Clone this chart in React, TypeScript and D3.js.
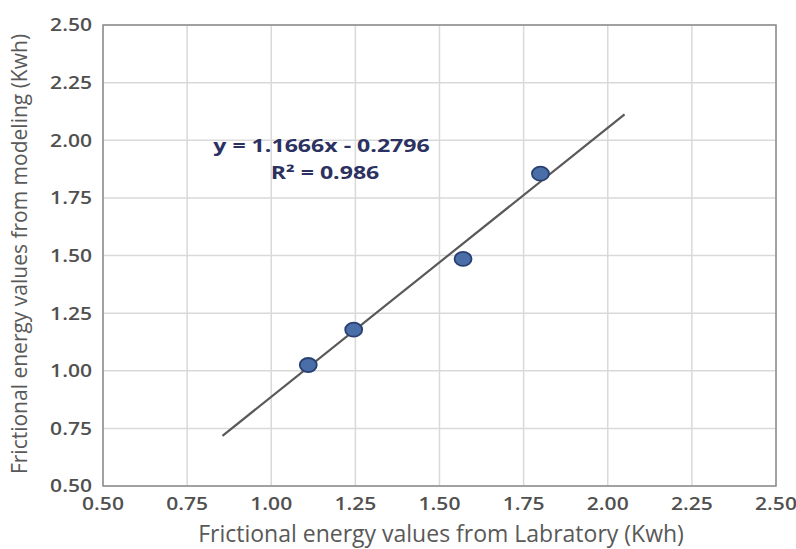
import React from "react";
import * as d3 from "d3";

const labX = [1.11, 1.245, 1.57, 1.8];
const modelY = [1.025, 1.178, 1.485, 1.855];
const xTicks = [0.5, 0.75, 1.0, 1.25, 1.5, 1.75, 2.0, 2.25, 2.5];
const yTicks = [0.5, 0.75, 1.0, 1.25, 1.5, 1.75, 2.0, 2.25, 2.5];
const trendSlope = 1.1666;
const trendIntercept = -0.2796;
const trendRange = [0.855, 2.05];
const equationLines = ["y = 1.1666x - 0.2796", "R² = 0.986"];
const xTitle = "Frictional energy values from Labratory (Kwh)";
const yTitle = "Frictional energy values from modeling (Kwh)";

export default function App() {
  const W = 796, H = 549;
  const left = 103, right = 776, top = 25, bottom = 486;
  const x = d3.scaleLinear().domain([0.5, 2.5]).range([left, right]);
  const y = d3.scaleLinear().domain([0.5, 2.5]).range([bottom, top]);
  const font = "'Open Sans', sans-serif";
  const line = d3
    .line<number>()
    .x((d) => x(d))
    .y((d) => y(trendSlope * d + trendIntercept));
  return (
    <svg
      width={W}
      height={H}
      style={{ position: "absolute", left: 0, top: 0, background: "#fff" }}
    >
      <rect x={0} y={0} width={W} height={H} fill="#fff" />
      {xTicks.map((t) => (
        <line key={"gx" + t} x1={x(t)} x2={x(t)} y1={top} y2={bottom} stroke="#d9d9d9" strokeWidth={1.5} />
      ))}
      {yTicks.map((t) => (
        <line key={"gy" + t} x1={left} x2={right} y1={y(t)} y2={y(t)} stroke="#d9d9d9" strokeWidth={1.5} />
      ))}
      <rect x={left} y={top} width={right - left} height={bottom - top} fill="none" stroke="#8c8c8c" strokeWidth={1.5} />
      <path d={line(trendRange) || ""} stroke="#595959" strokeWidth={2.2} fill="none" />
      {labX.map((v, i) => (
        <ellipse
          key={i}
          cx={x(v)}
          cy={y(modelY[i])}
          rx={8.5}
          ry={7}
          fill="#4a6ea8"
          stroke="#2a4070"
          strokeWidth={1.8}
        />
      ))}
      {yTicks.map((t) => (
        <g key={"ty" + t} transform={`translate(92, ${y(t)}) scale(1.17, 1)`}>
          <text x={0} y={0} dy="0.36em" textAnchor="end" fontFamily={font} fontWeight={600} fontSize={18} fill="#505050">
            {t.toFixed(2)}
          </text>
        </g>
      ))}
      {xTicks.map((t) => (
        <g key={"tx" + t} transform={`translate(${x(t)}, 510) scale(1.17, 1)`}>
          <text x={0} y={0} textAnchor="middle" fontFamily={font} fontWeight={600} fontSize={18} fill="#505050">
            {t.toFixed(2)}
          </text>
        </g>
      ))}
      <text x={441} y={542} textAnchor="middle" fontFamily={font} fontSize={23} fill="#595959">
        {xTitle}
      </text>
      <text
        transform={`translate(27, 254) rotate(-90)`}
        textAnchor="middle"
        fontFamily={font}
        fontSize={21}
        fill="#595959"
      >
        {yTitle}
      </text>
      {equationLines.map((s, i) => (
        <g key={s} transform={`translate(${i === 0 ? 321.5 : 325}, ${i === 0 ? 151.5 : 179}) scale(1.36, 1)`}>
          <text
            x={0}
            y={0}
            textAnchor="middle"
            fontFamily={font}
            fontWeight="bold"
            fontSize={17}
            fill="#2b3160"
          >
            {s}
          </text>
        </g>
      ))}
    </svg>
  );
}
